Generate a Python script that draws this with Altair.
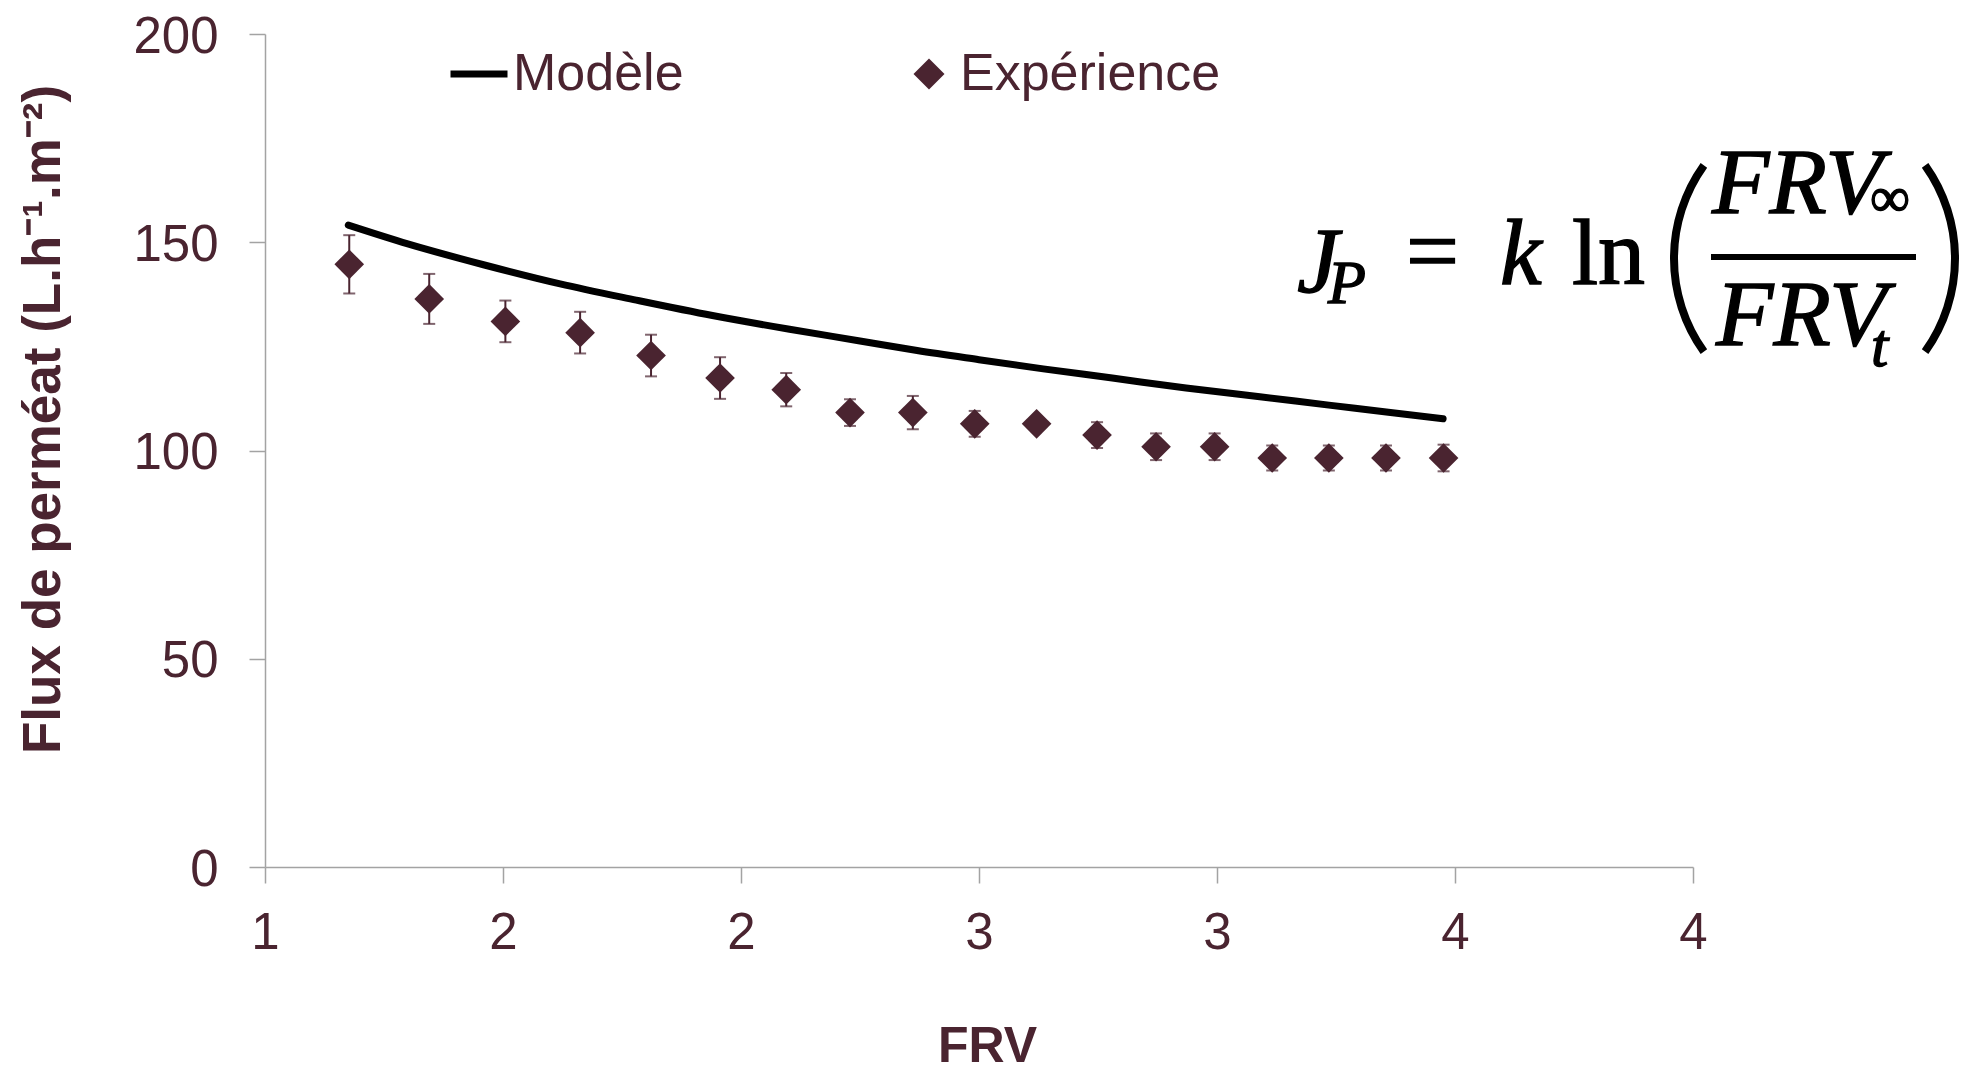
import math
import altair as alt
import pandas as pd

# ---------------- data ----------------
frv_exp = [1.177, 1.345, 1.505, 1.662, 1.811, 1.956, 2.095, 2.229, 2.361,
           2.491, 2.621, 2.748, 2.872, 2.995, 3.116, 3.235, 3.355, 3.476]
flux_exp = [144.7, 136.4, 131.0, 128.3, 122.8, 117.4, 114.6, 109.1, 109.1,
            106.4, 106.4, 103.7, 100.9, 100.9, 98.2, 98.2, 98.2, 98.2]
err_exp = [7.0, 6.0, 5.0, 5.0, 5.0, 5.0, 4.0, 3.2, 4.0,
           3.1, 0.0, 3.1, 3.2, 3.2, 3.0, 3.0, 3.0, 3.2]

frv_mod = [1.175, 1.300, 1.459, 1.620, 1.780, 1.940, 2.102, 2.250, 2.370,
           2.500, 2.635, 2.780, 2.935, 3.090, 3.235, 3.360, 3.475]
flux_mod = [154.1, 149.6, 144.6, 140.0, 136.1, 132.4, 129.1, 126.3, 124.0,
            121.8, 119.6, 117.4, 115.0, 112.9, 110.9, 109.2, 107.6]

x_ticks = [1, 1.5, 2, 2.5, 3, 3.5, 4]
y_ticks = [0, 50, 100, 150, 200]

series_mod = "Modèle"
series_exp = "Expérience"

# ---------------- tables ----------------
df_exp = pd.DataFrame({
    "frv": frv_exp,
    "flux": flux_exp,
    "lo": [f - e for f, e in zip(flux_exp, err_exp)],
    "hi": [f + e for f, e in zip(flux_exp, err_exp)],
    "serie_exp": [series_exp] * len(frv_exp),
})
df_mod = pd.DataFrame({
    "frv": frv_mod,
    "flux": flux_mod,
    "serie_mod": [series_mod] * len(frv_mod),
})

# ---------------- styles ----------------
W, H = 1428, 833
MAROON = "#4a2430"
AXIS_C = "#a3a3a3"
SANS = "Liberation Sans"
SERIF = "Liberation Serif"

xscale = alt.Scale(domain=[1, 4], nice=False, zero=False)
yscale = alt.Scale(domain=[0, 200], nice=False, zero=True)

xaxis = alt.Axis(
    values=x_ticks, format=".0f", title="FRV", grid=False,
    domainColor=AXIS_C, tickColor=AXIS_C, domainWidth=1.5, tickWidth=1.5, tickSize=16,
    labelFont=SANS, labelFontSize=51, labelColor=MAROON, labelBaseline="alphabetic",
    labelPadding=65, labelFlush=False, labelOverlap=False, labelBound=False,
    titleFont=SANS, titleFontSize=50, titleFontWeight="bold", titleColor=MAROON,
    titleBaseline="alphabetic", titleAlign="center", titleX=722, titleY=194,
)
yaxis = alt.Axis(
    values=y_ticks, title="Flux de perméat (L.h⁻¹.m⁻²)", grid=False,
    domainColor=AXIS_C, tickColor=AXIS_C, domainWidth=1.5, tickWidth=1.5, tickSize=16,
    labelFont=SANS, labelFontSize=51, labelColor=MAROON, labelAlign="right",
    labelBaseline="alphabetic", labelOffset=18, labelPadding=31,
    labelFlush=False, labelOverlap=False, labelBound=False,
    titleFont=SANS, titleFontSize=53, titleFontWeight="bold", titleColor=MAROON,
    titleAngle=270, titleBaseline="alphabetic", titleAlign="center",
    titleX=-206, titleY=385,
)


def X():
    return alt.X("frv:Q", scale=xscale, axis=xaxis)


def Y(field):
    return alt.Y(f"{field}:Q", scale=yscale, axis=yaxis)


rules = alt.Chart(df_exp).mark_rule(color=MAROON, strokeWidth=2).encode(
    x=X(), y=Y("lo"), y2="hi:Q")
cap_lo = alt.Chart(df_exp).mark_tick(orient="horizontal", size=12, thickness=2,
                                     color=MAROON).encode(x=X(), y=Y("lo"))
cap_hi = alt.Chart(df_exp).mark_tick(orient="horizontal", size=12, thickness=2,
                                     color=MAROON).encode(x=X(), y=Y("hi"))

points = alt.Chart(df_exp).mark_point(filled=True, size=880, opacity=1,
                                      color=MAROON, strokeWidth=0).encode(
    x=X(), y=Y("flux"),
    shape=alt.Shape("serie_exp:N",
                    scale=alt.Scale(domain=[series_exp], range=["diamond"]),
                    legend=alt.Legend(orient="none", legendX=638, legendY=14, title=None,
                                      padding=0, symbolSize=961, symbolFillColor=MAROON,
                                      symbolStrokeWidth=0, labelFont=SANS,
                                      labelFontSize=52, labelColor=MAROON,
                                      labelOffset=5, labelLimit=600)),
)

line = alt.Chart(df_mod).mark_line(strokeWidth=7, strokeCap="round",
                                   interpolate="monotone").encode(
    x=X(), y=Y("flux"),
    color=alt.Color("serie_mod:N",
                    scale=alt.Scale(domain=[series_mod], range=["#000000"]),
                    legend=alt.Legend(orient="none", legendX=182, legendY=8, title=None,
                                      padding=0, symbolType="stroke", symbolSize=3249,
                                      symbolStrokeWidth=7, labelFont=SANS,
                                      labelFontSize=52, labelColor=MAROON,
                                      labelOffset=2, labelLimit=600)),
)

# ---------------- equation annotation ----------------
one = pd.DataFrame({"a": [0]})
eq_pieces = [
    # text, x, y(baseline), size, italic
    ("J", 1032, 258, 94, True),
    ("P", 1063, 269, 62, True),
    ("=", 1141, 248, 94, False),
    ("k", 1235, 250, 94, True),
    ("ln", 1307, 250, 94, False),
    ("FRV", 1447, 179, 94, True),
    ("∞", 1605, 182, 56, False),
    ("FRV", 1451, 311, 94, True),
    ("t", 1606, 332, 62, True),
]
eq_layers = []
for txt, px, py, fs, it in eq_pieces:
    kw = dict(text=txt, font=SERIF, fontSize=fs, align="left", baseline="alphabetic",
              color="black", stroke="black", strokeWidth=1.4)
    if it:
        kw["fontStyle"] = "italic"
    eq_layers.append(alt.Chart(one).mark_text(**kw).encode(
        x=alt.value(px), y=alt.value(py)))

frac_bar = alt.Chart(one).mark_rule(color="black", strokeWidth=6).encode(
    x=alt.value(1446), x2=alt.value(1651), y=alt.value(223))

# large parentheses drawn as thin arcs
R_OUT, R_IN = 164, 156
HALF = math.radians(35.6)
paren_left = alt.Chart(one).mark_arc(
    color="black", radius=R_OUT, radius2=R_IN,
    theta=1.5 * math.pi - HALF, theta2=1.5 * math.pi + HALF).encode(
    x=alt.value(1405 + R_OUT), y=alt.value(224.5))
paren_right = alt.Chart(one).mark_arc(
    color="black", radius=R_OUT, radius2=R_IN,
    theta=0.5 * math.pi - HALF, theta2=0.5 * math.pi + HALF).encode(
    x=alt.value(1694 - R_OUT), y=alt.value(224.5))

chart = alt.layer(rules, cap_lo, cap_hi, points, line, frac_bar, paren_left,
                  paren_right, *eq_layers).properties(
    width=W, height=H,
    autosize=alt.AutoSizeParams(type="none"),
    padding={"left": 257, "top": 26, "right": 275, "bottom": 198},
    background="white",
).configure_view(strokeWidth=0)

chart.save("out.html", embed_options={"renderer": "svg", "actions": False})
